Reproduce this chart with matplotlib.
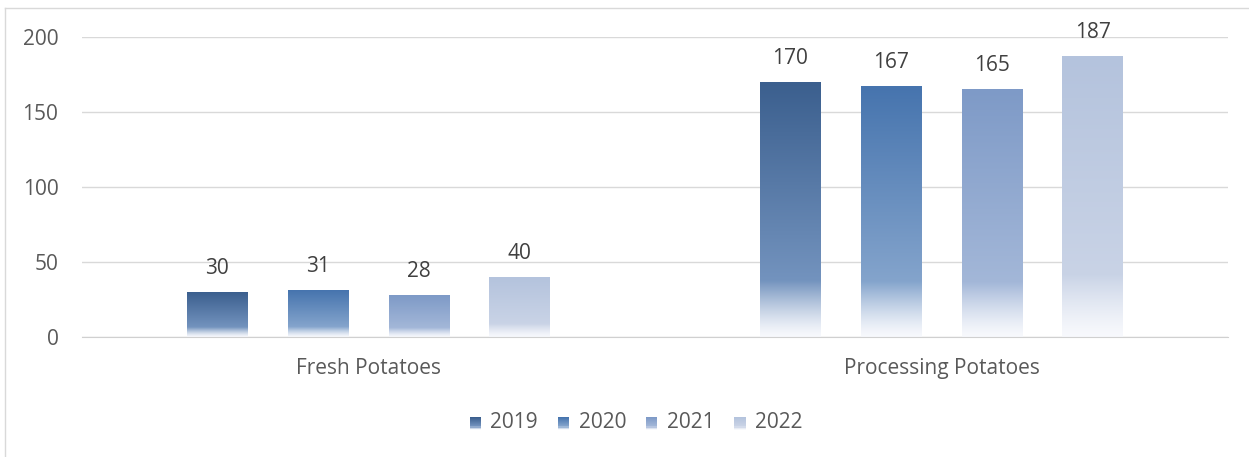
import numpy as np
import matplotlib.pyplot as plt
from matplotlib.colors import to_rgb
from matplotlib.patches import Patch, Rectangle
from matplotlib.lines import Line2D
from matplotlib.legend_handler import HandlerBase

categories = ["Fresh Potatoes", "Processing Potatoes"]
years = ["2019", "2020", "2021", "2022"]
values = {
    "2019": [30, 170],
    "2020": [31, 167],
    "2021": [28, 165],
    "2022": [40, 187],
}
top_colors = ["#3B5F8E", "#4674AE", "#7E9AC7", "#B4C3DD"]
mid_colors = ["#7393BE", "#84A4CC", "#A3B7D8", "#C9D3E6"]
yticks = [0, 50, 100, 150, 200]

plt.rcParams["font.family"] = ["Open Sans", "DejaVu Sans"]
TXT = "#595959"

fig = plt.figure(figsize=(12.49, 4.57), dpi=100)
W, H = 1249, 457
ax = fig.add_axes([82 / W, 120 / H, (1228 - 82) / W, 300 / H])

WHITE = np.array([0.97, 0.975, 0.99])


def grad_colors(top, mid, n=200):
    # bottom near white -> mid at 22% -> top color at the top
    t = np.linspace(0, 1, n)
    c_top, c_mid = np.array(to_rgb(top)), np.array(to_rgb(mid))
    out = np.zeros((n, 3))
    for i, v in enumerate(t):
        if v < 0.22:
            f = v / 0.22
            out[i] = WHITE + (c_mid - WHITE) * f ** 1.3
        else:
            f = (v - 0.22) / 0.78
            out[i] = c_mid + (c_top - c_mid) * f
    return out


class GradHandler(HandlerBase):
    def __init__(self, top, mid):
        super().__init__()
        self.cols = grad_colors(top, mid, 12)

    def create_artists(self, legend, orig, xd, yd, width, height, fontsize, trans):
        arts = []
        n = len(self.cols)
        for k, c in enumerate(self.cols):
            arts.append(Rectangle((xd, yd + height * k / n), width, height / n + 0.3,
                                  facecolor=c, edgecolor="none", transform=trans))
        return arts


x = np.arange(len(categories))
bw = 0.106
step = 0.176
for i, yr in enumerate(years):
    offs = (i - 1.5) * step
    bars = ax.bar(x + offs, values[yr], width=bw, color="none", edgecolor="none")
    img = grad_colors(top_colors[i], mid_colors[i])[:, None, :]
    for b, v in zip(bars, values[yr]):
        x0 = b.get_x()
        ax.imshow(img, extent=[x0, x0 + bw, 0, v], origin="lower",
                  aspect="auto", zorder=2, interpolation="bilinear")
        ax.annotate(str(v), (x0 + bw / 2, v), xytext=(0, 17), textcoords="offset points",
                    ha="center", va="center", fontsize=15, color="#404040")

ax.set_xlim(-0.5, 1.5)
ax.set_ylim(0, 200)
ax.set_yticks(yticks)
ax.set_xticks(x)
ax.set_xticklabels(categories)
ax.tick_params(length=0, labelsize=15, colors=TXT)
ax.tick_params(axis="y", pad=17)
ax.tick_params(axis="x", pad=15)
ax.grid(axis="y", color="#D9D9D9", linewidth=1)
ax.set_axisbelow(True)
for s in ["top", "right", "left"]:
    ax.spines[s].set_visible(False)
ax.spines["bottom"].set_color("#D0D0D0")

handles = [Patch(facecolor=mid_colors[i], edgecolor="none") for i in range(4)]
hmap = {h: GradHandler(top_colors[i], mid_colors[i]) for i, h in enumerate(handles)}
ax.legend(handles, years, loc="center", bbox_to_anchor=(636 / W, 1 - 423 / H),
          bbox_transform=fig.transFigure, ncol=4, frameon=False, handler_map=hmap,
          fontsize=15, labelcolor=TXT, handlelength=0.55, handleheight=0.55,
          handletextpad=0.45, columnspacing=0.95)

# outer chart border
fig.add_artist(Line2D([5 / W, 1], [1 - 8 / H, 1 - 8 / H], transform=fig.transFigure,
                      color="#D9D9D9", linewidth=1))
fig.add_artist(Line2D([5 / W, 5 / W], [0, 1 - 8 / H], transform=fig.transFigure,
                      color="#D9D9D9", linewidth=1))

fig.savefig("out.png", dpi=100)
